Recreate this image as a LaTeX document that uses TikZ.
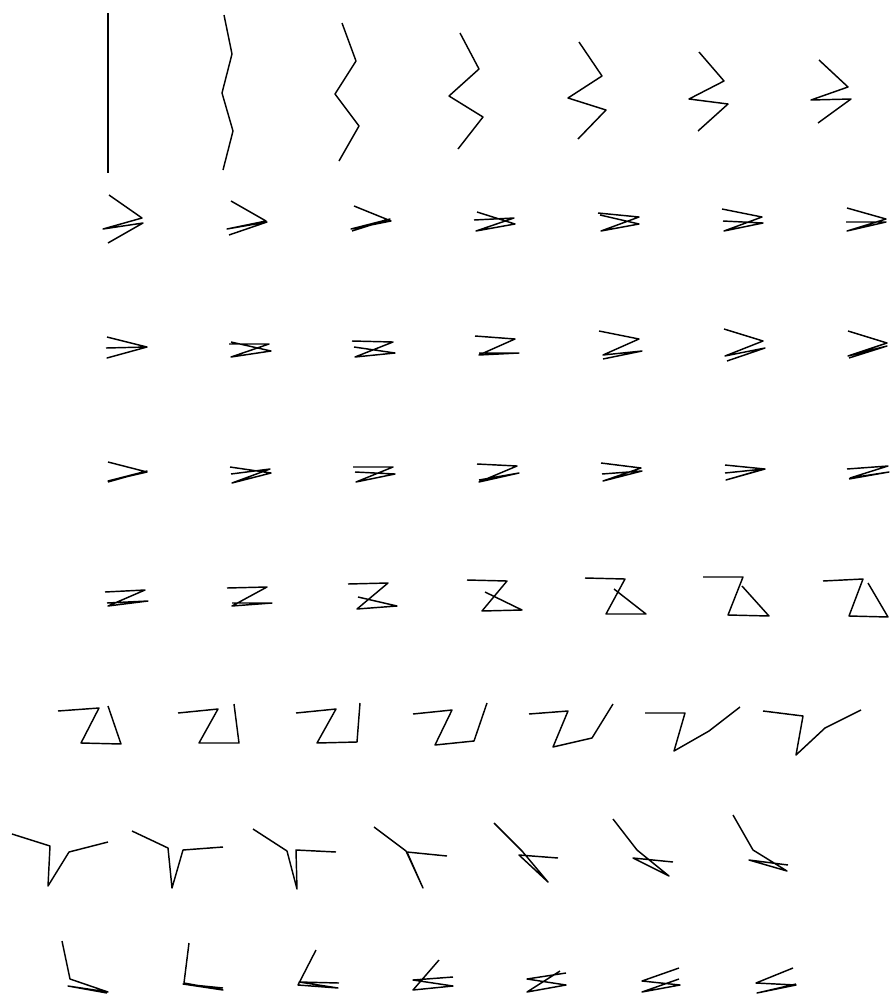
\documentclass[tikz,border=0pt]{standalone}
\usepackage{tikz}

\begin{document}
\begin{tikzpicture}[x=1pt,y=-1pt]
	\tikzset{link/.style={line width=1.45pt,line join=round}}
	\useasboundingbox (0,0) rectangle (890,994);

	% row 1
	\draw[link] (108,13) -- (108,53) -- (108,93) -- (108,133) -- (108,173);
	\draw[link] (224,15) -- (232,54) -- (222,93) -- (233,131) -- (223,170);
	\draw[link] (342,23) -- (356,61) -- (335,94) -- (359,126) -- (339,161);
	\draw[link] (460,33) -- (479,69) -- (449,96) -- (483,117) -- (458,149);
	\draw[link] (579,42) -- (602,76) -- (568,98) -- (606,110) -- (578,139);
	\draw[link] (699,52) -- (724,81) -- (689,99) -- (728,104) -- (698,131);
	\draw[link] (819,60) -- (848,87) -- (811,100) -- (851,99) -- (818,123);

	% row 2
	\draw[link] (109,195) -- (142,218) -- (103,229) -- (143,223) -- (108,243);
	\draw[link] (231,201) -- (266,221) -- (227,229) -- (267,222) -- (229,235);
	\draw[link] (354,206) -- (391,221) -- (351,229) -- (390,219) -- (352,231);
	\draw[link] (477,212) -- (515,224) -- (476,231) -- (514,218) -- (474,220);
	\draw[link] (598,213) -- (639,217) -- (601,231) -- (639,224) -- (600,215);
	\draw[link] (722,209) -- (762,217) -- (724,231) -- (763,223) -- (723,221);
	\draw[link] (847,208) -- (886,219) -- (847,231) -- (886,222) -- (846,222);

	% row 3
	\draw[link] (107,337) -- (147,347) -- (107,358) -- (147,347) -- (106,348);
	\draw[link] (231,342) -- (271,351) -- (231,357) -- (269,344) -- (229,344);
	\draw[link] (352,341) -- (393,342) -- (355,357) -- (395,353) -- (354,347);
	\draw[link] (475,336) -- (515,339) -- (479,355) -- (519,353) -- (479,353);
	\draw[link] (599,331) -- (639,339) -- (603,355) -- (642,351) -- (603,359);
	\draw[link] (724,329) -- (763,341) -- (725,356) -- (765,348) -- (727,361);
	\draw[link] (848,331) -- (887,343) -- (848,356) -- (887,346) -- (849,358);

	% row 4
	\draw[link] (108,462) -- (147,472) -- (108,481) -- (147,471) -- (108,482);
	\draw[link] (230,467) -- (271,473) -- (232,483) -- (270,469) -- (231,474);
	\draw[link] (353,467) -- (393,467) -- (356,482) -- (395,474) -- (355,472);
	\draw[link] (477,464) -- (517,466) -- (479,482) -- (519,473) -- (479,480);
	\draw[link] (601,463) -- (641,468) -- (603,481) -- (642,471) -- (602,474);
	\draw[link] (725,465) -- (765,469) -- (726,480) -- (764,469) -- (725,473);
	\draw[link] (847,469) -- (888,466) -- (850,478) -- (889,472) -- (849,479);

	% row 5
	\draw[link] (105,592) -- (145,590) -- (108,606) -- (148,601) -- (107,603);
	\draw[link] (227,588) -- (267,587) -- (232,606) -- (272,603) -- (232,603);
	\draw[link] (348,584) -- (388,583) -- (357,609) -- (397,606) -- (358,597);
	\draw[link] (467,580) -- (507,581) -- (482,611) -- (522,610) -- (485,592);
	\draw[link] (585,578) -- (625,579) -- (606,614) -- (646,614) -- (614,589);
	\draw[link] (703,577) -- (743,577) -- (728,615) -- (769,616) -- (742,586);
	\draw[link] (823,581) -- (863,579) -- (849,616) -- (888,617) -- (868,583);

	% row 6
	\draw[link] (58,711) -- (99,708) -- (81,743) -- (121,744) -- (108,706);
	\draw[link] (178,713) -- (218,709) -- (199,743) -- (239,743) -- (234,704);
	\draw[link] (296,713) -- (336,709) -- (317,743) -- (357,742) -- (360,703);
	\draw[link] (413,714) -- (452,710) -- (435,745) -- (474,741) -- (487,703);
	\draw[link] (529,714) -- (568,711) -- (553,747) -- (592,738) -- (613,704);
	\draw[link] (645,713) -- (685,713) -- (674,751) -- (709,731) -- (740,707);
	\draw[link] (763,711) -- (803,716) -- (796,755) -- (825,728) -- (861,710);

	% row 7
	\draw[link] (12,834) -- (50,846) -- (48,886) -- (69,852) -- (108,842);
	\draw[link] (132,831) -- (168,848) -- (172,888) -- (183,850) -- (223,847);
	\draw[link] (253,829) -- (287,851) -- (297,889) -- (296,850) -- (336,852);
	\draw[link] (374,827) -- (406,851) -- (423,888) -- (407,852) -- (447,856);
	\draw[link] (494,823) -- (522,851) -- (548,882) -- (519,855) -- (558,858);
	\draw[link] (613,819) -- (637,850) -- (669,876) -- (633,858) -- (673,862);
	\draw[link] (733,815) -- (753,850) -- (787,871) -- (749,860) -- (788,865);

	% row 8
	\draw[link] (62,941) -- (70,979) -- (108,992) -- (68,986) -- (107,993);
	\draw[link] (189,943) -- (184,983) -- (223,990) -- (183,984) -- (223,988);
	\draw[link] (316,950) -- (298,985) -- (338,988) -- (299,982) -- (339,983);
	\draw[link] (439,960) -- (413,990) -- (453,986) -- (413,980) -- (453,977);
	\draw[link] (560,971) -- (527,992) -- (566,985) -- (527,979) -- (566,973);
	\draw[link] (679,968) -- (642,981) -- (680,985) -- (642,992) -- (679,979);
	\draw[link] (793,968) -- (756,983) -- (796,985) -- (757,993) -- (796,984);
\end{tikzpicture}
\end{document}
